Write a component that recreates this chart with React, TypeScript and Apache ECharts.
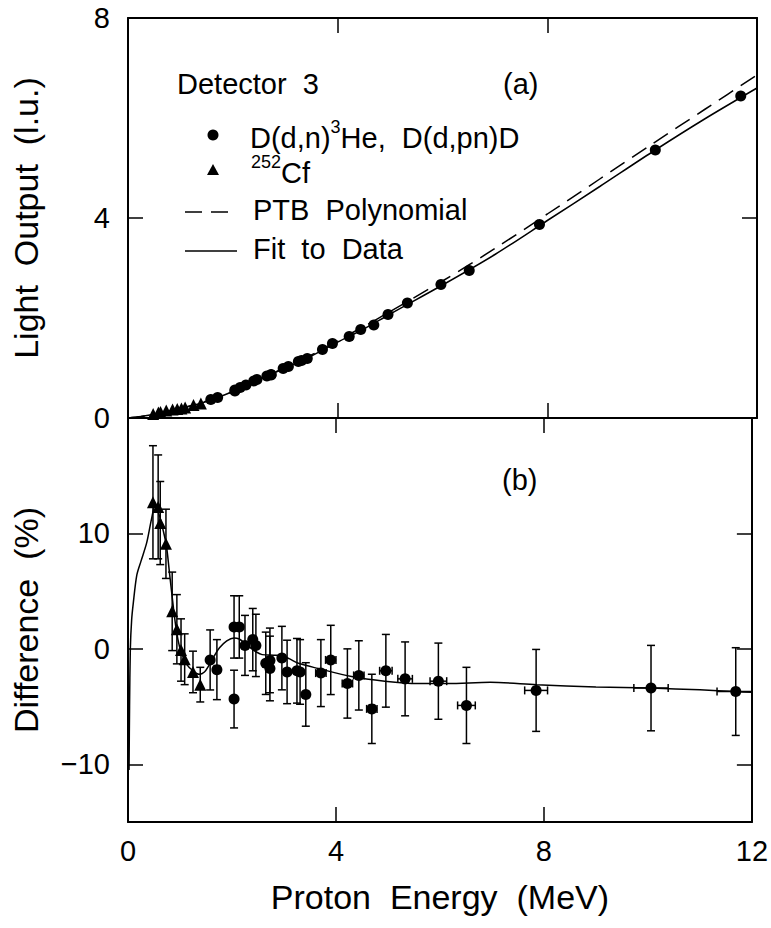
import React, { useEffect, useRef } from "react";
import * as echarts from "echarts";

// ---------- DATA ----------
// D(d,n)3He, D(d,pn)D points
const circleE = [1.58, 1.71, 2.04, 2.04, 2.14, 2.25, 2.40, 2.46, 2.65, 2.73, 2.73, 2.96, 3.06, 3.25, 3.31, 3.42, 3.71, 3.90, 4.22, 4.44, 4.69, 4.96, 5.33, 5.97, 6.51, 7.85, 10.06, 11.69];
const circleL = [0.37, 0.41, 0.56, 0.54, 0.61, 0.66, 0.74, 0.77, 0.84, 0.87, 0.86, 0.99, 1.03, 1.13, 1.15, 1.19, 1.37, 1.49, 1.63, 1.77, 1.86, 2.07, 2.30, 2.67, 2.95, 3.87, 5.36, 6.44];
const circleD = [-0.96, -1.8, 1.9, -4.35, 1.9, 0.3, 0.8, 0.3, -1.25, -1.0, -1.7, -0.8, -2.0, -1.9, -2.0, -3.95, -2.1, -0.96, -3.0, -2.3, -5.2, -1.9, -2.6, -2.8, -4.9, -3.6, -3.4, -3.7];
const circleErr = [2.6, 2.6, 2.7, 2.5, 2.7, 2.6, 2.7, 2.7, 2.7, 2.8, 2.8, 2.75, 2.75, 2.8, 2.8, 2.75, 2.9, 3.0, 3.0, 3.0, 3.0, 3.15, 3.2, 3.3, 3.3, 3.55, 3.7, 3.8];
const circleXErr = [0, 0, 0, 0, 0, 0, 0, 0, 0, 0, 0, 0, 0, 0, 0, 0, 0.1, 0.1, 0.1, 0.1, 0.1, 0.12, 0.14, 0.16, 0.17, 0.22, 0.33, 0.36];

// 252Cf points
const triE = [0.48, 0.58, 0.62, 0.73, 0.85, 0.94, 1.02, 1.09, 1.25, 1.39];
const triL = [0.08, 0.11, 0.12, 0.15, 0.17, 0.18, 0.19, 0.21, 0.26, 0.29];
const triD = [12.7, 12.3, 10.9, 9.1, 3.25, 1.7, -0.1, -0.9, -2.0, -3.1];
const triErr = [4.9, 4.5, 3.6, 3.0, 3.4, 3.0, 2.7, 2.2, 1.8, 1.5];

// curves in panel (a)
const curveE = [0, 0.25, 0.5, 0.75, 1, 1.5, 2, 2.5, 3, 3.5, 4, 4.5, 5, 6, 7, 8, 9, 10, 11, 12];
const fitL = [0, 0.03, 0.075, 0.13, 0.19, 0.33, 0.53, 0.77, 1.0, 1.24, 1.52, 1.78, 2.08, 2.66, 3.27, 3.95, 4.63, 5.32, 5.98, 6.6];
const ptbL = [0, 0.03, 0.07, 0.12, 0.19, 0.34, 0.53, 0.77, 1.01, 1.26, 1.55, 1.83, 2.13, 2.74, 3.39, 4.08, 4.78, 5.48, 6.17, 6.86];

// fit curve in panel (b)
const diffCurveE = [0.02, 0.03, 0.045, 0.07, 0.1, 0.17, 0.25, 0.36, 0.45, 0.52, 0.6, 0.68, 0.74, 0.8, 0.87, 0.93, 0.99, 1.05, 1.12, 1.25, 1.37, 1.47, 1.56, 1.66, 1.76, 1.9, 2.04, 2.14, 2.23, 2.35, 2.46, 2.58, 2.8, 2.96, 3.1, 3.28, 3.66, 4.3, 4.94, 5.57, 6.15, 6.97, 7.86, 9.0, 10.06, 11.0, 11.69, 12];
const diffCurveD = [-10.5, -5, 0, 2.5, 3.9, 6.4, 7.6, 9.2, 11.2, 12.4, 11.6, 10.2, 8.9, 6.5, 3.7, 1.6, 0.2, -0.6, -1.3, -1.9, -2.2, -2.0, -1.4, -0.6, 0.1, 0.7, 0.95, 0.85, 0.55, 0.1, -0.25, -0.5, -0.55, -0.6, -0.85, -1.25, -1.7, -2.4, -2.8, -3.0, -3.0, -2.9, -3.1, -3.3, -3.4, -3.55, -3.7, -3.77];

const energyTicks = [0, 4, 8, 12];
const lightTicks = [0, 4, 8];
const diffTicks = [-10, 0, 10];

const FONT = "Liberation Sans";

export default function App() {
  const ref = useRef<HTMLDivElement>(null);

  useEffect(() => {
    if (!ref.current) return;
    const chart = echarts.init(ref.current, null, { renderer: "svg" });

    const black = "#000";
    const axisLine = { show: true, onZero: false, lineStyle: { color: black, width: 2 } };
    const tick = { show: true, inside: true, length: 15, lineStyle: { color: black, width: 1.5 } };

    const xBase = (gridIndex: number, position: string, showLabel: boolean) => ({
      type: "value",
      gridIndex,
      position,
      min: energyTicks[0],
      max: energyTicks[energyTicks.length - 1],
      interval: 4,
      splitLine: { show: false },
      axisLine,
      axisTick: tick,
      axisLabel: {
        show: showLabel,
        color: black,
        fontFamily: FONT,
        fontSize: 29,
        margin: 14,
      },
    });

    const errData = (E: number[], D: number[], err: number[], xerr: number[] | null) =>
      E.map((e, i) => [e, D[i], err[i], xerr ? xerr[i] : 0]);

    const renderErr = (params: any, api: any) => {
      const x = api.value(0);
      const y = api.value(1);
      const e = api.value(2);
      const xe = api.value(3);
      const top = api.coord([x, y + e]);
      const bot = api.coord([x, y - e]);
      const cap = 4;
      const st = { stroke: black, lineWidth: 1.5 };
      const children: any[] = [
        { type: "line", shape: { x1: top[0], y1: top[1], x2: bot[0], y2: bot[1] }, style: st },
        { type: "line", shape: { x1: top[0] - cap, y1: top[1], x2: top[0] + cap, y2: top[1] }, style: st },
        { type: "line", shape: { x1: bot[0] - cap, y1: bot[1], x2: bot[0] + cap, y2: bot[1] }, style: st },
      ];
      if (xe > 0) {
        const l = api.coord([x - xe, y]);
        const r = api.coord([x + xe, y]);
        children.push(
          { type: "line", shape: { x1: l[0], y1: l[1], x2: r[0], y2: r[1] }, style: st },
          { type: "line", shape: { x1: l[0], y1: l[1] - cap, x2: l[0], y2: l[1] + cap }, style: st },
          { type: "line", shape: { x1: r[0], y1: r[1] - cap, x2: r[0], y2: r[1] + cap }, style: st }
        );
      }
      return { type: "group", children };
    };

    const legendText = (x: number, y: number, text: string, rich?: any) => ({
      type: "text",
      x,
      y,
      style: {
        text,
        fill: black,
        font: `29px "${FONT}"`,
        fontFamily: FONT,
        fontSize: 29,
        verticalAlign: "middle",
        align: "left",
        rich,
      },
    });

    const supRich = {
      m: { fontFamily: FONT, fontSize: 29, fill: black, color: black, verticalAlign: "bottom", lineHeight: 34 },
      s: { fontFamily: FONT, fontSize: 18, fill: black, color: black, verticalAlign: "top", lineHeight: 34 },
    };

    const scatterStyle = { color: black, opacity: 1 };

    const option: any = {
      animation: false,
      backgroundColor: "#fff",
      textStyle: { fontFamily: FONT },
      grid: [
        { left: 128, top: 18, width: 629, height: 400 },
        { left: 128, top: 418, width: 629, height: 404 },
      ],
      xAxis: [
        xBase(0, "bottom", false),
        xBase(0, "top", false),
        {
          ...xBase(1, "bottom", true),
          name: "Proton  Energy  (MeV)",
          nameLocation: "middle",
          nameGap: 58,
          nameTextStyle: { color: black, fontFamily: FONT, fontSize: 34 },
        },
        xBase(1, "top", false),
      ],
      yAxis: [
        {
          type: "value",
          gridIndex: 0,
          position: "left",
          min: lightTicks[0],
          max: lightTicks[lightTicks.length - 1],
          interval: 4,
          splitLine: { show: false },
          axisLine,
          axisTick: tick,
          axisLabel: { color: black, fontFamily: FONT, fontSize: 29, margin: 18 },
          name: "Light  Output  (l.u.)",
          nameLocation: "middle",
          nameGap: 85,
          nameTextStyle: { color: black, fontFamily: FONT, fontSize: 34 },
        },
        {
          type: "value",
          gridIndex: 0,
          position: "right",
          min: 0,
          max: 8,
          interval: 4,
          splitLine: { show: false },
          axisLine,
          axisTick: tick,
          axisLabel: { show: false },
        },
        {
          type: "value",
          gridIndex: 1,
          position: "left",
          min: -15,
          max: 20,
          splitLine: { show: false },
          axisLine,
          axisTick: { ...tick, customValues: diffTicks },
          axisLabel: {
            color: black,
            fontFamily: FONT,
            fontSize: 29,
            margin: 18,
            customValues: diffTicks,
            formatter: (v: number) => (v < 0 ? "\u2212" + Math.abs(v) : String(v)),
          },
          name: "Difference  (%)",
          nameLocation: "middle",
          nameGap: 85,
          nameTextStyle: { color: black, fontFamily: FONT, fontSize: 34 },
        },
        {
          type: "value",
          gridIndex: 1,
          position: "right",
          min: -15,
          max: 20,
          splitLine: { show: false },
          axisLine,
          axisTick: { ...tick, customValues: diffTicks },
          axisLabel: { show: false },
        },
      ],
      series: [
        {
          name: "PTB Polynomial",
          type: "line",
          xAxisIndex: 0,
          yAxisIndex: 0,
          data: curveE.map((e, i) => [e, ptbL[i]]),
          showSymbol: false,
          smooth: 0.3,
          lineStyle: { color: black, width: 1.5, type: [17, 9] },
        },
        {
          name: "Fit to Data",
          type: "line",
          xAxisIndex: 0,
          yAxisIndex: 0,
          data: curveE.map((e, i) => [e, fitL[i]]),
          showSymbol: false,
          smooth: 0.3,
          lineStyle: { color: black, width: 1.5 },
        },
        {
          name: "circles a",
          type: "scatter",
          xAxisIndex: 0,
          yAxisIndex: 0,
          data: circleE.map((e, i) => [e, circleL[i]]),
          symbol: "circle",
          symbolSize: 11,
          itemStyle: scatterStyle,
        },
        {
          name: "triangles a",
          type: "scatter",
          xAxisIndex: 0,
          yAxisIndex: 0,
          data: triE.map((e, i) => [e, triL[i]]),
          symbol: "triangle",
          symbolSize: 12,
          itemStyle: scatterStyle,
        },
        {
          name: "diff fit",
          type: "line",
          xAxisIndex: 2,
          yAxisIndex: 2,
          data: diffCurveE.map((e, i) => [e, diffCurveD[i]]),
          showSymbol: false,
          smooth: 0.3,
          lineStyle: { color: black, width: 1.5 },
        },
        {
          name: "err circles",
          type: "custom",
          xAxisIndex: 2,
          yAxisIndex: 2,
          clip: true,
          data: errData(circleE, circleD, circleErr, circleXErr),
          encode: { x: 0, y: 1 },
          renderItem: renderErr,
        },
        {
          name: "err triangles",
          type: "custom",
          xAxisIndex: 2,
          yAxisIndex: 2,
          clip: true,
          data: errData(triE, triD, triErr, null),
          encode: { x: 0, y: 1 },
          renderItem: renderErr,
        },
        {
          name: "circles b",
          type: "scatter",
          xAxisIndex: 2,
          yAxisIndex: 2,
          data: circleE.map((e, i) => [e, circleD[i]]),
          symbol: "circle",
          symbolSize: 11,
          itemStyle: scatterStyle,
          z: 5,
        },
        {
          name: "triangles b",
          type: "scatter",
          xAxisIndex: 2,
          yAxisIndex: 2,
          data: triE.map((e, i) => [e, triD[i]]),
          symbol: "triangle",
          symbolSize: 12,
          itemStyle: scatterStyle,
          z: 5,
        },
      ],
      graphic: [
        legendText(177, 84, "Detector  3"),
        legendText(503, 84, "(a)"),
        { type: "circle", shape: { cx: 213, cy: 135, r: 5.5 }, style: { fill: black } },
        legendText(250, 135, "{m|D(d,n)}{s|3}{m|He,  D(d,pn)D}", supRich),
        { type: "polygon", shape: { points: [[213, 164], [207, 175], [219, 175]] }, style: { fill: black } },
        legendText(251, 170, "{s|252}{m|Cf}", supRich),
        { type: "line", shape: { x1: 185, y1: 212, x2: 237, y2: 212 }, style: { stroke: black, lineWidth: 1.5, lineDash: [17, 9] } },
        legendText(253, 210, "PTB  Polynomial"),
        { type: "line", shape: { x1: 185, y1: 251, x2: 237, y2: 251 }, style: { stroke: black, lineWidth: 1.5 } },
        legendText(253, 249, "Fit  to  Data"),
        legendText(502, 480, "(b)"),
      ],
    };

    chart.setOption(option);
    return () => chart.dispose();
  }, []);

  return (
    <div
      ref={ref}
      style={{ position: "fixed", left: 0, top: 0, width: 771, height: 928, background: "#fff" }}
    />
  );
}
